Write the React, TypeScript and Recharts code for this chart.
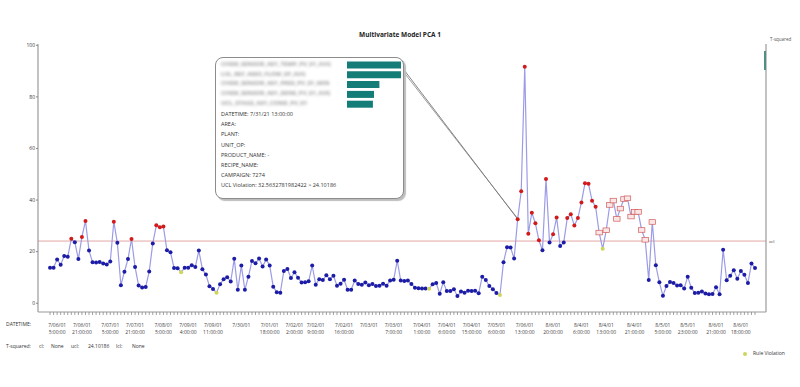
import React from 'react';
import { LineChart, Line, XAxis, YAxis, ReferenceLine, BarChart, Bar } from 'recharts';

const ucl = 24.10186;

// T-squared per sample
const tSquared = [
  13.8, 13.8, 17.0, 14.9, 18.3, 18.0, 25.0, 23.6, 17.1, 25.7,
  31.9, 20.4, 15.9, 15.8, 16.0, 15.4, 15.0, 16.2, 31.6, 23.4,
  7.0, 12.2, 17.1, 24.9, 14.0, 6.9, 6.1, 6.3, 12.3, 23.2,
  30.2, 29.5, 29.7, 20.5, 19.8, 13.7, 13.6, 12.0, 13.8, 13.8,
  14.7, 14.0, 20.4, 13.2, 11.1, 6.6, 5.5, 4.1, 7.4, 9.3,
  10.1, 8.4, 17.2, 5.2, 14.6, 5.2, 10.3, 16.4, 15.5, 17.3,
  14.2, 17.0, 14.6, 6.4, 4.3, 4.1, 12.5, 13.3, 9.8, 12.0,
  9.9, 8.0, 8.1, 8.5, 14.6, 7.2, 9.3, 9.0, 10.8, 9.3,
  10.7, 6.8, 7.6, 9.1, 5.2, 5.2, 8.8, 7.5, 7.2, 8.0,
  7.0, 7.5, 6.7, 6.8, 7.6, 6.8, 8.8, 9.1, 16.5, 8.8,
  8.6, 8.8, 7.5, 6.0, 5.8, 5.7, 5.7, 5.6, 7.4, 7.8,
  3.7, 8.1, 4.7, 4.7, 5.4, 2.8, 4.5, 4.1, 4.8, 4.7,
  4.8, 3.9, 10.3, 9.0, 6.7, 5.4, 4.0, 3.2, 15.9, 21.7,
  21.6, 17.3, 32.6, 43.4, 91.7, 26.9, 35.1, 31.0, 24.4, 20.5,
  48.2, 23.5, 26.7, 33.2, 22.2, 23.5, 33.0, 34.5, 30.1, 33.0,
  39.1, 46.5, 46.3, 39.7, 37.4, 27.4, 21.1, 28.3, 38.1, 39.8,
  32.7, 36.7, 40.4, 40.7, 33.6, 35.4, 35.4, 28.4, 24.6, 9.0,
  31.5, 14.7, 8.1, 2.9, 6.7, 8.2, 7.8, 6.9, 7.0, 5.7,
  10.3, 6.0, 4.0, 4.1, 4.5, 3.8, 3.5, 3.6, 6.2, 3.5,
  20.7, 8.9, 10.7, 12.8, 9.5, 12.5, 11.0, 7.8, 15.4, 13.7,
];

const boxedIdx = [155, 157, 158, 159, 160, 161, 162, 163, 164, 165, 166, 167, 168, 170];
const ruleIdx = [37, 47, 107, 127, 156];
const selectedIdx = 132;

const labelIdx = [2, 9, 17, 24, 32, 39, 46, 54, 62, 69, 75, 83, 90, 97, 105, 112, 119, 126, 134, 142, 150, 157, 165, 173, 180, 188, 195];
const labelDate = ['7/06/01', '7/06/01', '7/07/01', '7/07/01', '7/08/01', '7/09/01', '7/09/01', '7/30/01', '7/01/01', '7/02/01', '7/02/01', '7/02/01', '7/03/01', '7/03/01', '7/04/01', '7/04/01', '7/04/01', '7/05/01', '7/06/01', '8/6/01', '8/4/01', '8/4/01', '8/4/01', '8/5/01', '8/5/01', '8/6/01', '8/6/01'];
const labelTime = ['5:00:00', '21:00:00', '5:00:00', '21:00:00', '5:00:00', '4:00:00', '11:00:00', '', '18:00:00', '2:00:00', '9:00:00', '16:00:00', '', '7:00:00', '1:00:00', '6:00:00', '15:00:00', '6:00:00', '13:00:00', '20:00:00', '6:00:00', '13:00:00', '21:00:00', '5:00:00', '23:00:00', '21:00:00', '18:00:00'];

const yTicks = [0, 20, 40, 60, 80, 100];

// contribution bars in the popup
const contribNames = ['CHEM_SENSOR_A01_TEMP_PV_01_AVG', 'LVL_REF_A003_FLOW_SP_AVG', 'CHEM_SENSOR_A01_PRES_PV_01_MIN', 'CHEM_SENSOR_A01_DENS_PV_01_AVG', 'UCL_STAGE_A01_COND_PV_01'];
const contribValues = [100, 100, 60, 50, 48];

const popupLines = [
  'DATETIME: 7/31/21 13:00:00',
  'AREA:',
  'PLANT:',
  'UNIT_OP:',
  'PRODUCT_NAME: -',
  'RECIPE_NAME:',
  'CAMPAIGN: 7274',
  'UCL Violation: 32.5632781982422 > 24.10186',
];

const data = tSquared.map((v, i) => ({ i, v }));
const allTicks = data.map(d => d.i);
const font = "'Open Sans', sans-serif";

const XTick = (props: any) => {
  const { x, y, payload } = props;
  const k = labelIdx.indexOf(payload.value);
  return (
    <g>
      <line x1={x} x2={x} y1={y} y2={y + 3} stroke="#8a8a8a" strokeWidth={0.8} />
      {k >= 0 && (
        <text x={x} y={y + 15} textAnchor="middle" fontSize={5} fill="#444" fontFamily={font}>
          <tspan x={x}>{labelDate[k]}</tspan>
          <tspan x={x} dy={6.5}>{labelTime[k]}</tspan>
        </text>
      )}
    </g>
  );
};

const renderDot = (props: any) => {
  const { cx, cy, index } = props;
  if (boxedIdx.includes(index)) {
    return <rect key={`d${index}`} x={cx - 3.2} y={cy - 2.3} width={6.4} height={4.6} fill="#fbe6e6" stroke="#d25a5a" strokeWidth={0.7} />;
  }
  let fill = '#1c1ca6';
  if (ruleIdx.includes(index)) fill = '#cdd65a';
  else if (tSquared[index] > ucl) fill = '#d11a1a';
  return <circle key={`d${index}`} cx={cx} cy={cy} r={2} fill={fill} />;
};

const abs = (left: number, top: number, extra: React.CSSProperties = {}): React.CSSProperties => ({
  position: 'absolute', left, top, fontFamily: font, fontSize: 5, color: '#333', whiteSpace: 'nowrap', lineHeight: 1, ...extra,
});

export default function App() {
  return (
    <div style={{ position: 'absolute', left: 0, top: 0, width: 800, height: 387, background: '#fff', overflow: 'hidden' }}>
      <div style={abs(0, 32, { width: 800, textAlign: 'center', fontSize: 6.5, fontWeight: 700, color: '#222' })}>
        Multivariate Model PCA 1
      </div>
      <div style={abs(770, 37, { fontSize: 4.5, color: '#555' })}>T-squared</div>

      <LineChart width={800} height={387} data={data} margin={{ top: 44, right: 0, bottom: 45, left: 8 }}>
        <XAxis
          dataKey="i"
          type="number"
          domain={[-3.4, 202.1]}
          ticks={allTicks}
          interval={0}
          tick={<XTick />}
          tickLine={false}
          tickSize={0}
          tickMargin={0}
          height={30}
          axisLine={{ stroke: '#9a9a9a', strokeWidth: 1.2 }}
        />
        <XAxis
          xAxisId="top"
          dataKey="i"
          type="number"
          domain={[-3.4, 202.1]}
          orientation="top"
          height={0}
          tick={false}
          tickLine={false}
          axisLine={{ stroke: '#9a9a9a', strokeWidth: 1.2 }}
        />
        <YAxis
          type="number"
          domain={[-3.4, 100.5]}
          ticks={yTicks}
          width={30}
          tickSize={2}
          tickMargin={1}
          tick={{ fontSize: 5, fill: '#333', fontFamily: font }}
          tickLine={{ stroke: '#888' }}
          axisLine={{ stroke: '#9a9a9a', strokeWidth: 1.2 }}
        />
        <YAxis
          yAxisId="r"
          orientation="right"
          domain={[-3.4, 100.5]}
          width={34}
          tick={false}
          tickLine={false}
          axisLine={{ stroke: '#9a9a9a', strokeWidth: 1.2 }}
        />
        <ReferenceLine
          y={ucl}
          stroke="#e3a7a7"
          strokeWidth={1}
          label={{ value: 'ucl', position: 'right', offset: 3, fontSize: 4.5, fill: '#555' }}
        />
        <ReferenceLine
          segment={[{ x: 97.4, y: 95.0 }, { x: selectedIdx, y: tSquared[selectedIdx] }]}
          stroke="#666"
          strokeWidth={0.8}
          ifOverflow="visible"
        />
        <ReferenceLine
          segment={[{ x: 98.6, y: 91.8 }, { x: selectedIdx - 0.2, y: tSquared[selectedIdx] + 0.6 }]}
          stroke="#777"
          strokeWidth={0.7}
          ifOverflow="visible"
        />
        <Line
          dataKey="v"
          stroke="#9c9ce6"
          strokeWidth={1.2}
          dot={renderDot}
          activeDot={false}
          isAnimationActive={false}
        />
      </LineChart>

      {/* popup for the selected sample */}
      <div style={{
        position: 'absolute', left: 215, top: 57, width: 187, height: 140, background: '#fff',
        border: '1px solid #8c8c8c', borderRadius: 8, boxShadow: '2px 2px 1px #bdbdbd', fontFamily: font,
      }}>
        <div style={{ position: 'absolute', left: 5, top: 2, width: 125 }}>
          {contribNames.map(n => (
            <div key={n} style={{ height: 9.7, fontSize: 6, fontWeight: 700, color: '#9a9a9a', filter: 'blur(1.8px)', whiteSpace: 'nowrap', overflow: 'hidden' }}>{n}</div>
          ))}
        </div>
        <div style={{ position: 'absolute', left: 131, top: 2 }}>
          <BarChart width={54} height={49} data={contribNames.map((n, k) => ({ n, c: contribValues[k] }))} layout="vertical" margin={{ top: 0, right: 0, bottom: 0, left: 0 }} barCategoryGap={1.5}>
            <XAxis type="number" domain={[0, 100]} hide />
            <YAxis type="category" dataKey="n" hide />
            <Bar dataKey="c" fill="#147d78" isAnimationActive={false} />
          </BarChart>
        </div>
        <div style={{ position: 'absolute', left: 5, top: 52 }}>
          {popupLines.map(t => (
            <div key={t} style={{ height: 10.2, fontSize: 5.5, color: '#333', whiteSpace: 'nowrap' }}>{t}</div>
          ))}
        </div>
      </div>

      <div style={{ position: 'absolute', left: 764, top: 51, width: 2, height: 19, background: '#4f8f86' }} />

      <div style={abs(6, 322)}>DATETIME:</div>
      <div style={abs(6, 344)}>T-squared:</div>
      <div style={abs(39, 344)}>cl:</div>
      <div style={abs(51, 344)}>None</div>
      <div style={abs(71, 344)}>ucl:</div>
      <div style={abs(88, 344)}>24.10186</div>
      <div style={abs(116, 344)}>lcl:</div>
      <div style={abs(132, 344)}>None</div>

      <div style={{ position: 'absolute', left: 743, top: 352, width: 4, height: 4, borderRadius: 2, background: '#cdd65a' }} />
      <div style={abs(753, 351)}>Rule Violation</div>
    </div>
  );
}
